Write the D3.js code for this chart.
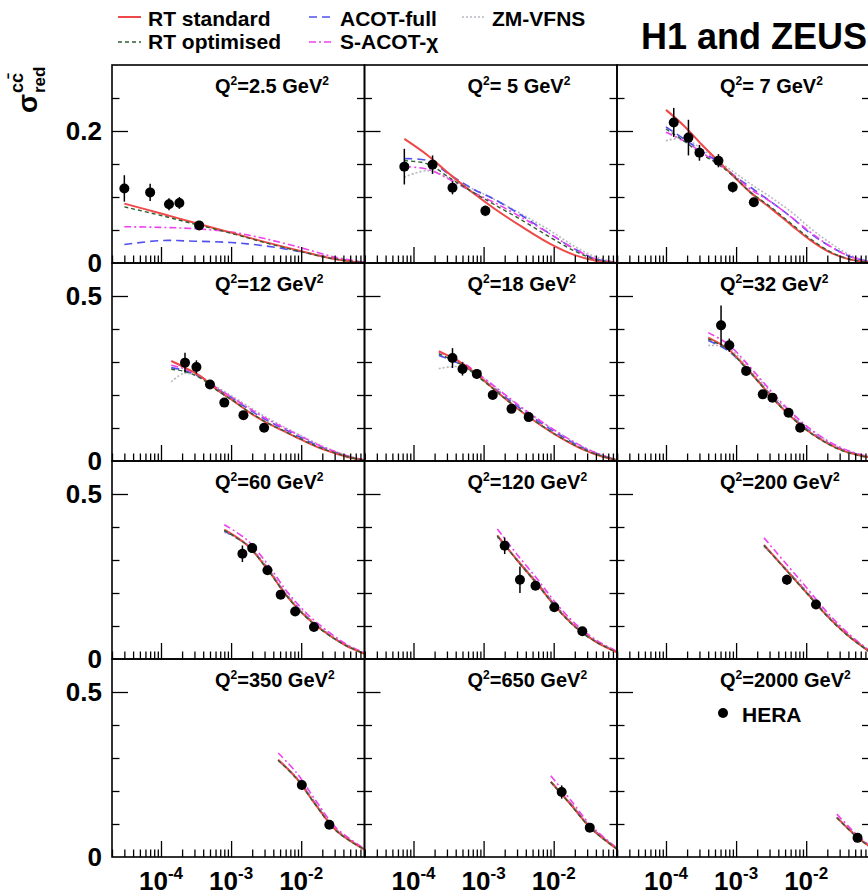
<!DOCTYPE html>
<html>
<head>
<meta charset="utf-8">
<script src="https://cdn.jsdelivr.net/npm/d3@7"></script>
<style>
  body { margin: 0; background: #fff; }
  svg text { font-family: "Liberation Sans", Arial, Helvetica, sans-serif; font-weight: bold; fill: #000; }
</style>
</head>
<body>
<svg id="chart" width="868" height="896"></svg>
<script>
// ---------------- data ----------------
const q2Labels = ["2.5", " 5", " 7", "12", "18", "32", "60", "120", "200", "350", "650", "2000"];
const rowYMax = [0.3, 0.6, 0.6, 0.6];
const rowYLabels = [["0", "0.2"], ["0", "0.5"], ["0", "0.5"], ["0", "0.5"]];
const rowYLabelValues = [[0, 0.2], [0, 0.5], [0, 0.5], [0, 0.5]];
const xDecades = [1e-4, 1e-3, 1e-2];
const xDecadeExponents = ["-4", "-3", "-2"];

// HERA combined charm reduced cross sections
const heraX = [
  [3.0e-5, 7.0e-5, 1.3e-4, 1.83e-4, 3.5e-4],
  [7.4e-5, 1.87e-4, 3.6e-4, 1.06e-3],
  [1.29e-4, 2.09e-4, 3.0e-4, 5.6e-4, 8.96e-4, 1.79e-3],
  [2.2e-4, 3.2e-4, 5.0e-4, 8.0e-4, 1.5e-3, 2.96e-3],
  [3.6e-4, 5.0e-4, 8.0e-4, 1.35e-3, 2.5e-3, 4.4e-3],
  [6.1e-4, 8.0e-4, 1.39e-3, 2.4e-3, 3.3e-3, 5.6e-3, 8.2e-3],
  [1.45e-3, 2.0e-3, 3.3e-3, 5.1e-3, 8.2e-3, 0.0152],
  [2.0e-3, 3.3e-3, 5.5e-3, 0.0102, 0.0256],
  [5.3e-3, 0.0138],
  [0.0102, 0.0252],
  [0.013, 0.0327],
  [0.054]
];
const heraY = [
  [0.113, 0.107, 0.089, 0.091, 0.057],
  [0.146, 0.149, 0.114, 0.079],
  [0.213, 0.190, 0.167, 0.155, 0.115, 0.092],
  [0.298, 0.285, 0.232, 0.177, 0.139, 0.101],
  [0.312, 0.279, 0.264, 0.200, 0.158, 0.133],
  [0.411, 0.351, 0.273, 0.202, 0.192, 0.146, 0.101],
  [0.319, 0.336, 0.269, 0.195, 0.144, 0.097],
  [0.343, 0.240, 0.222, 0.157, 0.084],
  [0.240, 0.165],
  [0.218, 0.0975],
  [0.197, 0.089],
  [0.058]
];
const heraErr = [
  [0.020, 0.013, 0.009, 0.009, 0.004],
  [0.027, 0.014, 0.010, 0.008],
  [0.022, 0.027, 0.012, 0.010, 0.008, 0.007],
  [0.030, 0.020, 0.012, 0.012, 0.010, 0.010],
  [0.030, 0.020, 0.015, 0.012, 0.010, 0.010],
  [0.060, 0.020, 0.012, 0.012, 0.012, 0.010, 0.010],
  [0.025, 0.015, 0.012, 0.010, 0.010, 0.008],
  [0.025, 0.040, 0.012, 0.010, 0.008],
  [0.015, 0.010],
  [0.015, 0.008],
  [0.020, 0.008],
  [0.008]
];

// x nodes at which the predictions are tabulated, one list per Q2 bin
const theoryX = [
  [3e-5, 1e-4, 3e-4, 1e-3, 3e-3, 1e-2, 3e-2, 8e-2],
  [7.4e-5, 1.6e-4, 3.5e-4, 7.1e-4, 1.4e-3, 3.5e-3, 8.9e-3, 0.02, 0.04, 0.08],
  [1e-4, 1.8e-4, 3.2e-4, 5.5e-4, 9.5e-4, 1.6e-3, 3.2e-3, 6.2e-3, 0.0117, 0.023, 0.044, 0.08],
  [1.4e-4, 2.1e-4, 3.6e-4, 6.2e-4, 1.08e-3, 1.87e-3, 3.2e-3, 5.6e-3, 9.7e-3, 0.0167, 0.029, 0.05, 0.08],
  [2.3e-4, 5e-4, 1e-3, 2e-3, 4e-3, 1e-2, 0.025, 0.05, 0.08],
  [4e-4, 7.6e-4, 1.3e-3, 2.3e-3, 3.9e-3, 6.8e-3, 0.0118, 0.0204, 0.035, 0.061, 0.08],
  [8e-4, 1.7e-3, 3.3e-3, 6.3e-3, 0.012, 0.023, 0.044, 0.08],
  [1.57e-3, 3e-3, 5.8e-3, 0.011, 0.021, 0.04, 0.08],
  [2.5e-3, 5.6e-3, 0.0107, 0.02, 0.039, 0.08],
  [4.7e-3, 8.6e-3, 0.0165, 0.0316, 0.08],
  [9.1e-3, 0.018, 0.034, 0.08],
  [0.0274, 0.04, 0.056, 0.08]
];
const rtStandard = [
  [0.090, 0.075, 0.061, 0.046, 0.032, 0.018, 0.006, 0.000],
  [0.188, 0.163, 0.132, 0.106, 0.083, 0.055, 0.029, 0.012, 0.0035, 0.000],
  [0.232, 0.208, 0.180, 0.155, 0.130, 0.107, 0.082, 0.057, 0.034, 0.015, 0.005, 0.001],
  [0.303, 0.285, 0.258, 0.217, 0.182, 0.146, 0.116, 0.091, 0.066, 0.043, 0.025, 0.010, 0.002],
  [0.333, 0.295, 0.245, 0.190, 0.140, 0.083, 0.037, 0.013, 0.003],
  [0.374, 0.340, 0.290, 0.230, 0.175, 0.125, 0.084, 0.053, 0.030, 0.016, 0.011],
  [0.392, 0.345, 0.272, 0.190, 0.126, 0.078, 0.040, 0.016],
  [0.375, 0.300, 0.228, 0.155, 0.095, 0.052, 0.020],
  [0.346, 0.262, 0.195, 0.130, 0.072, 0.022],
  [0.295, 0.238, 0.155, 0.080, 0.022],
  [0.228, 0.156, 0.087, 0.024],
  [0.120, 0.085, 0.057, 0.032]
];
const rtOptimised = [
  [0.085, 0.072, 0.059, 0.045, 0.031, 0.017, 0.006, 0.000],
  [0.155, 0.150, 0.127, 0.107, 0.089, 0.065, 0.039, 0.018, 0.005, 0.000],
  [0.203, 0.185, 0.165, 0.150, 0.130, 0.107, 0.084, 0.059, 0.036, 0.016, 0.005, 0.001],
  [0.278, 0.272, 0.252, 0.215, 0.182, 0.147, 0.117, 0.092, 0.067, 0.044, 0.026, 0.011, 0.002],
  [0.325, 0.290, 0.242, 0.190, 0.141, 0.084, 0.038, 0.014, 0.003],
  [0.370, 0.338, 0.288, 0.229, 0.174, 0.124, 0.083, 0.052, 0.029, 0.015, 0.010],
  [0.390, 0.344, 0.271, 0.189, 0.125, 0.077, 0.040, 0.016],
  [0.373, 0.299, 0.227, 0.154, 0.094, 0.052, 0.020],
  [0.344, 0.261, 0.194, 0.129, 0.071, 0.022],
  [0.293, 0.237, 0.154, 0.079, 0.022],
  [0.227, 0.155, 0.086, 0.024],
  [0.119, 0.084, 0.056, 0.031]
];
const acotFull = [
  [0.028, 0.034, 0.033, 0.031, 0.026, 0.017, 0.007, 0.001],
  [0.158, 0.155, 0.132, 0.112, 0.097, 0.072, 0.044, 0.021, 0.006, 0.000],
  [0.206, 0.188, 0.170, 0.153, 0.132, 0.115, 0.092, 0.069, 0.044, 0.024, 0.009, 0.002],
  [0.283, 0.275, 0.255, 0.220, 0.188, 0.154, 0.124, 0.098, 0.072, 0.048, 0.028, 0.012, 0.003],
  [0.320, 0.290, 0.245, 0.195, 0.147, 0.090, 0.042, 0.016, 0.004],
  [0.365, 0.335, 0.288, 0.232, 0.178, 0.128, 0.087, 0.055, 0.032, 0.017, 0.011],
  [0.388, 0.345, 0.274, 0.192, 0.128, 0.079, 0.041, 0.016],
  [0.372, 0.300, 0.230, 0.157, 0.096, 0.053, 0.021],
  [0.344, 0.263, 0.197, 0.132, 0.073, 0.023],
  [0.294, 0.239, 0.157, 0.081, 0.023],
  [0.228, 0.158, 0.089, 0.025],
  [0.120, 0.086, 0.058, 0.033]
];
const sAcotChi = [
  [0.055, 0.054, 0.052, 0.047, 0.037, 0.023, 0.009, 0.001],
  [0.146, 0.142, 0.125, 0.107, 0.092, 0.069, 0.044, 0.021, 0.006, 0.001],
  [0.198, 0.185, 0.168, 0.150, 0.132, 0.112, 0.092, 0.069, 0.046, 0.024, 0.009, 0.002],
  [0.290, 0.280, 0.257, 0.222, 0.190, 0.158, 0.128, 0.101, 0.076, 0.051, 0.030, 0.013, 0.003],
  [0.330, 0.298, 0.252, 0.202, 0.153, 0.095, 0.045, 0.017, 0.004],
  [0.389, 0.355, 0.305, 0.245, 0.190, 0.138, 0.095, 0.061, 0.036, 0.019, 0.013],
  [0.407, 0.360, 0.288, 0.204, 0.138, 0.087, 0.045, 0.018],
  [0.394, 0.317, 0.243, 0.167, 0.104, 0.058, 0.023],
  [0.367, 0.280, 0.210, 0.141, 0.079, 0.025],
  [0.315, 0.255, 0.168, 0.088, 0.025],
  [0.246, 0.169, 0.095, 0.027],
  [0.130, 0.093, 0.062, 0.035]
];
const zmVfns = [
  [],
  [0.130, 0.140, 0.127, 0.112, 0.097, 0.074, 0.049, 0.025, 0.009, 0.001],
  [0.185, 0.189, 0.173, 0.155, 0.137, 0.120, 0.099, 0.077, 0.052, 0.029, 0.011, 0.002],
  [0.240, 0.265, 0.255, 0.225, 0.194, 0.162, 0.132, 0.104, 0.078, 0.053, 0.031, 0.014, 0.003],
  [0.280, 0.285, 0.250, 0.200, 0.152, 0.095, 0.045, 0.017, 0.004],
  [0.350, 0.345, 0.298, 0.240, 0.185, 0.134, 0.092, 0.059, 0.034, 0.018, 0.012],
  [0.384, 0.348, 0.279, 0.197, 0.132, 0.082, 0.043, 0.017],
  [0.368, 0.303, 0.234, 0.161, 0.099, 0.055, 0.022],
  [0.340, 0.266, 0.201, 0.135, 0.076, 0.024],
  [0.292, 0.242, 0.161, 0.084, 0.024],
  [0.226, 0.160, 0.091, 0.026],
  [0.119, 0.087, 0.059, 0.034]
];

// ---------------- layout & styles ----------------
const svg = d3.select("#chart");
const colLeft = [112, 364.5, 617];
const panelW = 252.5;
const rowTop = [65, 263, 461, 659];
const panelH = 198;
const xDomain = [2e-5, 0.08];

const models = [
  { name: "ZM-VFNS",     vals: zmVfns,      color: "#b8b8c0", width: 1.6, dash: "2,2" },
  { name: "ACOT-full",   vals: acotFull,    color: "#5050f0", width: 1.6, dash: "8,5" },
  { name: "S-ACOT-\u03c7", vals: sAcotChi, color: "#f040f0", width: 1.6, dash: "7,3,2,3" },
  { name: "RT standard", vals: rtStandard,  color: "#ee4848", width: 2.0, dash: null },
  { name: "RT optimised",vals: rtOptimised, color: "#2f5e2f", width: 1.4, dash: "4,3" }
];

// minor ticks of a log axis across the domain
const xMinor = [];
for (let e = -5; e <= -2; e++) {
  for (let k = 2; k <= 9; k++) {
    const v = k * Math.pow(10, e);
    if (v >= xDomain[0] * 0.999 && v <= xDomain[1] * 1.001) xMinor.push(v);
  }
}

q2Labels.forEach((lab, i) => {
  const col = i % 3, row = Math.floor(i / 3);
  const L = colLeft[col], T = rowTop[row];
  const x = d3.scaleLog().domain(xDomain).range([L, L + panelW]);
  const y = d3.scaleLinear().domain([0, rowYMax[row]]).range([T + panelH, T]);
  const g = svg.append("g");

  const clipId = "clip" + i;
  svg.append("clipPath").attr("id", clipId)
    .append("rect").attr("x", L).attr("y", T).attr("width", panelW).attr("height", panelH);

  // theory curves
  const line = d3.line().x(d => x(d[0])).y(d => y(d[1])).curve(d3.curveCatmullRom.alpha(0.5));
  const cg = g.append("g").attr("clip-path", `url(#${clipId})`);
  models.forEach(m => {
    const v = m.vals[i];
    if (!v.length) return;
    const pts = theoryX[i].map((xv, j) => [xv, v[j]]);
    cg.append("path").attr("d", line(pts))
      .attr("fill", "none").attr("stroke", m.color).attr("stroke-width", m.width)
      .attr("stroke-dasharray", m.dash);
  });

  // axes ticks (x: bottom, pointing up; y: left and right, pointing inwards)
  const tickStyle = sel => {
    sel.select(".domain").remove();
    sel.selectAll("line").attr("stroke", "#000").attr("stroke-width", 1.3);
  };
  const step = rowYMax[row] === 0.3 ? 0.05 : 0.1;
  const majorStep = rowYMax[row] === 0.3 ? 0.2 : 0.5;
  const yMinor = d3.range(step, rowYMax[row] - 1e-9, step).filter(v => Math.abs(v / majorStep - Math.round(v / majorStep)) > 1e-6);
  const yMajor = d3.range(majorStep, rowYMax[row] - 1e-9, majorStep);

  g.append("g").attr("transform", `translate(0,${T + panelH})`)
    .call(d3.axisBottom(x).tickValues(xMinor).tickSize(-7.5).tickFormat("")).call(tickStyle);
  g.append("g").attr("transform", `translate(0,${T + panelH})`)
    .call(d3.axisBottom(x).tickValues(xDecades).tickSize(-16).tickFormat("")).call(tickStyle);
  g.append("g").attr("transform", `translate(${L},0)`)
    .call(d3.axisLeft(y).tickValues(yMinor).tickSize(-7.5).tickFormat("")).call(tickStyle);
  g.append("g").attr("transform", `translate(${L},0)`)
    .call(d3.axisLeft(y).tickValues(yMajor).tickSize(-16).tickFormat("")).call(tickStyle);
  g.append("g").attr("transform", `translate(${L + panelW},0)`)
    .call(d3.axisRight(y).tickValues(yMinor.concat(yMajor)).tickSize(-7.5).tickFormat("")).call(tickStyle);

  // frame
  g.append("rect").attr("x", L).attr("y", T).attr("width", panelW).attr("height", panelH)
    .attr("fill", "none").attr("stroke", "#000").attr("stroke-width", 1.6);

  // HERA data points with error bars
  const dg = g.append("g");
  heraX[i].forEach((xv, j) => {
    const yv = heraY[i][j], e = heraErr[i][j];
    dg.append("line").attr("x1", x(xv)).attr("x2", x(xv))
      .attr("y1", y(yv - e)).attr("y2", y(yv + e))
      .attr("stroke", "#000").attr("stroke-width", 1.5);
    dg.append("circle").attr("cx", x(xv)).attr("cy", y(yv)).attr("r", 5).attr("fill", "#000");
  });

  // Q2 label
  const t = g.append("text").attr("x", L + 103).attr("y", T + 28).attr("font-size", 20);
  t.append("tspan").text("Q");
  t.append("tspan").attr("font-size", 12).attr("dy", -8).text("2");
  t.append("tspan").attr("dy", 8).text("=" + lab + " GeV");
  t.append("tspan").attr("font-size", 12).attr("dy", -8).text("2");

  // y tick labels (left column only)
  if (col === 0) {
    rowYLabels[row].forEach((s, k) => {
      g.append("text").attr("x", 102).attr("y", y(rowYLabelValues[row][k]))
        .attr("dy", "0.36em").attr("text-anchor", "end").attr("font-size", 26).text(s);
    });
  }
  // x tick labels (bottom row only)
  if (row === 3) {
    xDecades.forEach((d, k) => {
      const xt = g.append("text").attr("x", x(d)).attr("y", 890)
        .attr("text-anchor", "middle").attr("font-size", 26);
      xt.append("tspan").text("10");
      xt.append("tspan").attr("font-size", 17).attr("dy", -11).text(xDecadeExponents[k]);
    });
  }
});

// y-axis title
const yt = svg.append("g").attr("transform", "translate(37,113) rotate(-90)");
yt.append("text").attr("x", 0).attr("y", 0).attr("font-size", 28).text("\u03c3");
yt.append("text").attr("x", 20).attr("y", -14).attr("font-size", 18).text("cc\u0304");
yt.append("text").attr("x", 20).attr("y", 8).attr("font-size", 17).text("red");

// legend
const legendItems = [
  { m: models[3], x: 118, y: 17, tx: 148, ty: 26 },
  { m: models[4], x: 118, y: 42, tx: 148, ty: 49 },
  { m: models[1], x: 309, y: 17, tx: 340, ty: 26 },
  { m: models[2], x: 309, y: 42, tx: 340, ty: 49 },
  { m: models[0], x: 462, y: 17, tx: 492, ty: 26 }
];
legendItems.forEach(it => {
  svg.append("line").attr("x1", it.x).attr("x2", it.x + 23).attr("y1", it.y).attr("y2", it.y)
    .attr("stroke", it.m.color).attr("stroke-width", it.m.width).attr("stroke-dasharray", it.m.dash);
  svg.append("text").attr("x", it.tx).attr("y", it.ty).attr("font-size", 21).text(it.m.name);
});

svg.append("text").attr("x", 641).attr("y", 49).attr("font-size", 36).text("H1 and ZEUS");

// HERA marker legend in the last panel
svg.append("circle").attr("cx", 723).attr("cy", 713).attr("r", 5).attr("fill", "#000");
svg.append("text").attr("x", 742).attr("y", 722).attr("font-size", 21).text("HERA");
</script>
</body>
</html>
